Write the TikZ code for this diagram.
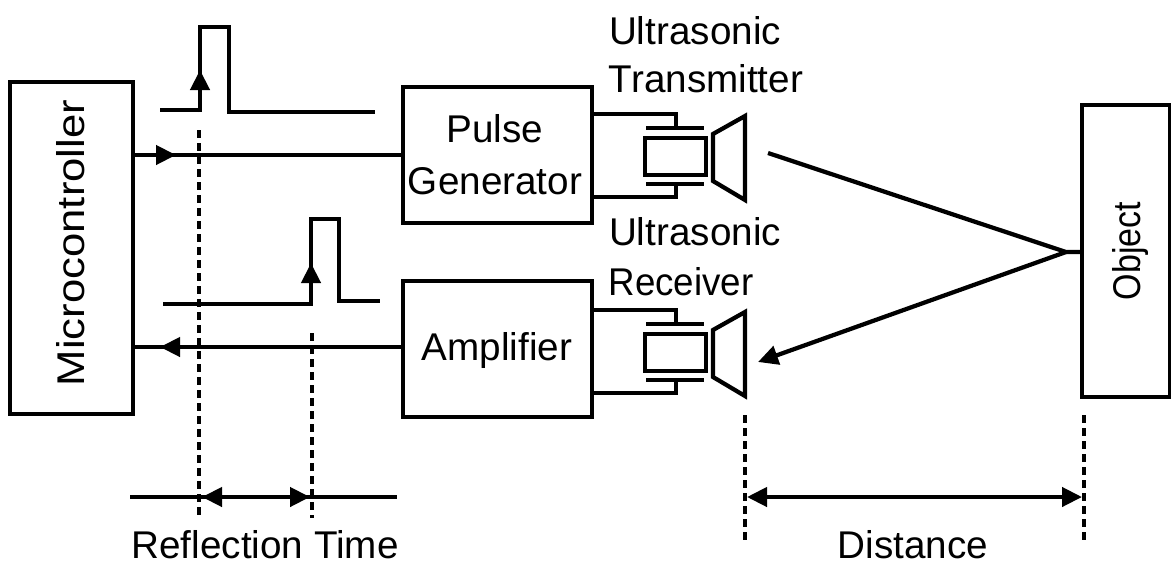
\documentclass[tikz,border=0pt]{standalone}
\usepackage{fontspec}
\setmainfont{Liberation Sans}
\usetikzlibrary{arrows.meta}
\tikzset{
	block/.style={draw,line width=0.9mm,inner sep=0pt,outer sep=0pt,anchor=north west},
	wire/.style={line width=0.85mm},
	dash line/.style={line width=0.8mm,dash pattern=on 1.6mm off 1mm},
	tip/.style={wire,-{Triangle[length=4mm,width=3.8mm]}},
	label/.style={font=\fontsize{22}{24}\selectfont,inner sep=0pt}
}
\begin{document}
\begin{tikzpicture}[line cap=butt,line join=miter,x=0.2mm,y=-0.2mm]
	\useasboundingbox (0,0) rectangle (1171,565);
	% Blocks
	\node[block,minimum width=24.6mm,minimum height=66.4mm] (micro) at (10,82) {};
	\node[block,minimum width=37.8mm,minimum height=27.2mm] (pulse) at (403,87) {};
	\node[block,minimum width=37.8mm,minimum height=27.2mm] (amp) at (403,281) {};
	\node[block,minimum width=17.6mm,minimum height=58.4mm] (object) at (1082,105) {};
	\node[label,rotate=90,xscale=1.13] (microtext) at (71,243) {Microcontroller};
	\node[label,rotate=90,xscale=0.88] (objecttext) at (1130,251) {Object};
	\node[label,align=center] (pulsetext) at (495,155) {Pulse\\[2mm]Generator};
	\node[label] (amptext) at (497,350) {Amplifier};
	\node[label] (ustext) at (695,31) {Ultrasonic};
	\node[label] (txtext) at (706,79) {Transmitter};
	\node[label] (urtext) at (695,232) {Ultrasonic};
	\node[label,xscale=0.95] (rxtext) at (681,282) {Receiver};
	\node[label] (rtime) at (265,545) {Reflection Time};
	\node[label] (dist) at (913,545) {Distance};
	% Transducers
	\foreach \ya/\name in {0/tx,196/rx}{
		\begin{scope}[yshift=-0.2mm*\ya]
			\draw[wire] (592,114) -| (676,128);
			\draw[wire] (592,197) -| (676,184);
			\draw[wire] (646,128) -- (704,128);
			\draw[wire] (646,184) -- (704,184);
			\draw[wire] (645,138) rectangle (706,175);
			\draw[wire] (713,134) -- (745,116) -- (745,200) -- (713,181) -- cycle;
		\end{scope}
	}
	% Pulses
	\coordinate (p1a) at (160,110);
	\coordinate (p1b) at (375,112);
	\draw[wire] (p1a) -- (200,110) -- (200,27) -- (229,27) -- (229,112) -- (p1b);
	\draw[tip] (200,112) -- (200,70);
	\coordinate (p2a) at (163,304);
	\coordinate (p2b) at (380,301);
	\draw[wire] (p2a) -- (311,304) -- (311,219) -- (339,219) -- (339,301) -- (p2b);
	\draw[tip] (311,304) -- (311,263);
	% Signal lines
	\draw[wire] (micro.east |- 0,155) -- (pulse.west |- 0,155);
	\draw[tip] (140,155) -- (176,155);
	\draw[wire] (amp.west |- 0,347) -- (micro.east |- 0,347);
	\draw[tip] (195,347) -- (160,347);
	% Dashed lines
	\coordinate (d1a) at (199,130);
	\coordinate (d1b) at (199,518);
	\coordinate (d2a) at (312,333);
	\coordinate (d2b) at (312,518);
	\coordinate (d3a) at (745,415);
	\coordinate (d3b) at (745,540);
	\coordinate (d4a) at (1084,415);
	\coordinate (d4b) at (1084,540);
	\foreach \da/\db in {d1a/d1b,d2a/d2b,d3a/d3b,d4a/d4b}
		\draw[dash line] (\da) -- (\db);
	% Reflection time
	\coordinate (ra) at (130,497);
	\coordinate (rb) at (397,497);
	\draw[wire] (ra) -- (rb);
	\draw[tip] (240,497) -- (202,497);
	\draw[tip] (270,497) -- (310,497);
	% Distance
	\coordinate (da) at (747,497);
	\coordinate (db) at (1082,497);
	\draw[wire,{Triangle[length=4mm,width=3.8mm]}-{Triangle[length=4mm,width=3.8mm]}] (da) -- (db);
	% Beam
	\coordinate (beam) at (1066,252);
	\draw[wire] (768,153) -- (beam) -- (object.west |- beam);
	\draw[tip] (beam) -- (758,362);
\end{tikzpicture}
\end{document}
